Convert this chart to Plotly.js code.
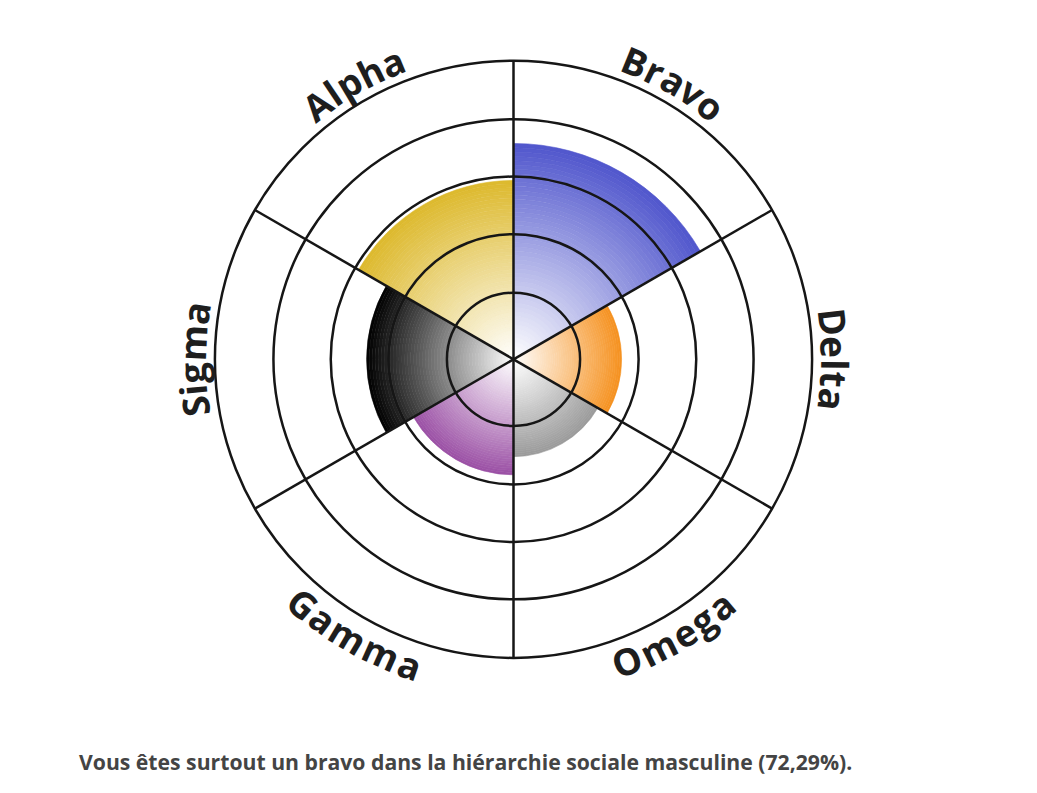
<!DOCTYPE html>
<html><head><meta charset="utf-8">
<script src="https://cdn.plot.ly/plotly-3.0.1.min.js"></script>
<style>html,body{margin:0;padding:0;background:#fff;} #chart{width:1037px;height:793px;}</style>
</head><body><div id="chart"></div>
<script>
// ---- data ----
const categories = ["Bravo", "Delta", "Omega", "Gamma", "Sigma", "Alpha"];
const values = [72.29, 36.2, 32.6, 38.7, 49.2, 59.9];
const colors = ["#5056CC", "#F5911F", "#9A9A9A", "#9B50A5", "#000000", "#DDB92D"];
const gridValues = [22.3, 41.9, 61.2, 80.4];
const caption = "Vous êtes surtout un bravo dans la hiérarchie sociale masculine (72,29%).";

// ---- geometry / style ----
const W = 1037, H = 793;
const CX = 513.5, CY = 359.3, R = 298.6;
const dom = {x: [(CX - R) / W, (CX + R) / W], y: [(H - CY - R) / H, (H - CY + R) / H]};
const lineCol = "#161616";
const N = 50;
const step = 360 / categories.length;

function hexRgb(h) { h = h.replace('#', ''); return [0, 2, 4].map(i => parseInt(h.substr(i, 2), 16)); }
function mix(hex, t) {
  const c = hexRgb(hex);
  return 'rgb(' + c.map(v => Math.round(255 + (v - 255) * t)).join(',') + ')';
}

const traces = [];
for (let k = 0; k < N; k++) {
  const t = (k + 0.5) / N;
  const cols = colors.map(c => mix(c, t));
  traces.push({
    type: 'barpolar', subplot: 'polar',
    theta: categories, r: values.map(v => v / N),
    marker: {color: cols, line: {color: cols, width: 0.6}},
    hoverinfo: 'skip', showlegend: false
  });
}
const centers = categories.map((c, i) => i * step + step / 2);
traces.push({
  type: 'scatterpolar', subplot: 'polar2', mode: 'markers',
  theta: centers, r: values, text: categories,
  marker: {size: 1, opacity: 0}, hoverinfo: 'text+r', showlegend: false
});

// ---- curved labels (one annotation per character) ----
const FS = 37, LS = 1, RT = 322;
const ctx = document.createElement('canvas').getContext('2d');
ctx.font = 'bold ' + FS + 'px "Open Sans"';
const annotations = [];
const cxP = CX / W, cyP = (H - CY) / H;
categories.forEach((name, i) => {
  const th = centers[i];
  const chars = Array.from(name);
  const ws = chars.map(ch => ctx.measureText(ch).width);
  const total = ws.reduce((a, b) => a + b, 0) + LS * (chars.length - 1);
  const outward = Math.cos(th * Math.PI / 180) > -0.01;
  let acc = 0;
  chars.forEach((ch, j) => {
    const mid = acc + ws[j] / 2;
    acc += ws[j] + LS;
    const dAng = (mid - total / 2) / RT * 180 / Math.PI;
    const a = outward ? th + dAng : th - dAng;
    const rad = a * Math.PI / 180;
    annotations.push({
      xref: 'paper', yref: 'paper', x: cxP, y: cyP,
      xshift: RT * Math.sin(rad), yshift: RT * Math.cos(rad),
      text: ch, showarrow: false, xanchor: 'center', yanchor: 'middle',
      textangle: outward ? a : a - 180,
      font: {family: 'Open Sans', size: FS, color: '#1e1e1e', weight: 'bold'}
    });
  });
});
annotations.push({
  xref: 'paper', yref: 'paper', x: 77 / W, y: (H - 761) / H,
  xanchor: 'left', yanchor: 'middle', showarrow: false, text: caption,
  font: {family: 'Open Sans', size: 21.2, color: '#444', weight: 'bold'}
});

const hiddenAxis = {showgrid: false, showline: false, showticklabels: false, ticks: ''};
const layout = {
  width: W, height: H, margin: {l: 0, r: 0, t: 0, b: 0},
  paper_bgcolor: '#fff', showlegend: false, dragmode: false,
  polar: {
    domain: dom, bgcolor: '#fff', barmode: 'stack', bargap: 0,
    angularaxis: Object.assign({type: 'category', categoryarray: categories, rotation: 90 - step / 2, direction: 'clockwise'}, hiddenAxis),
    radialaxis: Object.assign({range: [0, 100]}, hiddenAxis)
  },
  polar2: {
    domain: dom, bgcolor: 'rgba(0,0,0,0)',
    angularaxis: {type: 'linear', rotation: 90, direction: 'clockwise', tickmode: 'array',
      tickvals: categories.map((c, i) => i * step), showgrid: true, gridcolor: lineCol, gridwidth: 2.5,
      showline: true, linecolor: lineCol, linewidth: 2.5, showticklabels: false, ticks: ''},
    radialaxis: {range: [0, 100], tickmode: 'array', tickvals: gridValues, showgrid: true,
      gridcolor: lineCol, gridwidth: 2.5, showline: false, showticklabels: false, ticks: ''}
  },
  annotations: annotations
};
Plotly.newPlot('chart', traces, layout, {displayModeBar: false, staticPlot: true});
</script>
</body></html>
